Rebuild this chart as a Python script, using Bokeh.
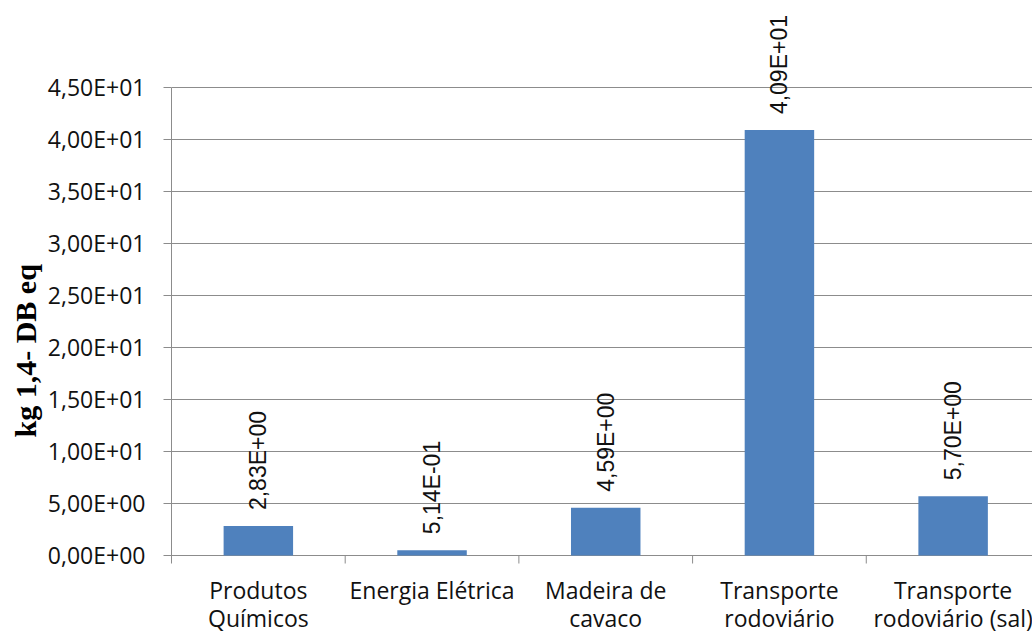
import math

from bokeh.core.properties import value
from bokeh.embed import file_html
from bokeh.models import FixedTicker, Range1d, Title
from bokeh.plotting import figure
from bokeh.resources import INLINE

# Data
categories = [
    "Produtos\nQuímicos",
    "Energia Elétrica",
    "Madeira de\ncavaco",
    "Transporte\nrodoviário",
    "Transporte\nrodoviário (sal)",
]
values = [2.83, 0.514, 4.59, 40.9, 5.70]
y_ticks = [0, 5, 10, 15, 20, 25, 30, 35, 40, 45]
y_title = "kg 1,4- DB eq"


def sci_pt(v):
    """Scientific notation with a decimal comma, e.g. 2,83E+00."""
    return f"{v:.2E}".replace(".", ",")


n = len(categories)
centers = [i + 0.5 for i in range(n)]
boundaries = list(range(1, n))
value_labels = [sci_pt(v) for v in values]
first_lines = [c.split("\n")[0] for c in categories]
second_lines = [c.split("\n")[1] if "\n" in c else "" for c in categories]

GRID = "#8c8c8c"
BAR = "#4F81BD"
TEXT = "#111111"

# The frame runs down to the bottom edge so the category names can be drawn
# as text below the zero line; the value axis is bounded to its own ticks.
Y_MIN, Y_MAX = -7.5, 52.88
TICK_DEPTH = -0.77
X_END = 4.957

p = figure(
    width=1032,
    height=633,
    x_range=Range1d(0, X_END),
    y_range=Range1d(Y_MIN, Y_MAX),
    x_axis_location=None,
    output_backend="svg",
    toolbar_location=None,
    min_border_left=171,
    min_border_right=0,
    min_border_top=5,
    min_border_bottom=0,
)
p.outline_line_color = None
p.background_fill_color = "white"
p.border_fill_color = "white"

# Horizontal gridlines (the one at zero doubles as the category axis line)
p.xgrid.visible = False
p.ygrid.ticker = FixedTicker(ticks=y_ticks)
p.ygrid.grid_line_color = GRID
p.ygrid.grid_line_width = 1

# Value axis
p.yaxis.ticker = FixedTicker(ticks=y_ticks)
p.yaxis.major_label_overrides = {t: sci_pt(t) for t in y_ticks}
p.yaxis.bounds = (TICK_DEPTH, max(y_ticks))
p.yaxis.axis_line_color = GRID
p.yaxis.major_tick_line_color = GRID
p.yaxis.major_tick_out = 8
p.yaxis.major_tick_in = 0
p.yaxis.minor_tick_line_color = None
p.yaxis.major_label_standoff = 18
p.yaxis.major_label_text_font = "Open Sans"
p.yaxis.major_label_text_font_size = "23px"
p.yaxis.major_label_text_color = TEXT

# Vertical title, to the left of the value axis
p.add_layout(
    Title(
        text=y_title,
        align="left",
        offset=196,
        standoff=6,
        text_font="Liberation Serif",
        text_font_style="bold",
        text_font_size="30px",
        text_color="#000000",
    ),
    "left",
)

# Tick marks between categories
p.segment(x0=boundaries, y0=0, x1=boundaries, y1=TICK_DEPTH, line_color=GRID, line_width=1)

# Bars
p.vbar(x=centers, top=values, bottom=0, width=0.4, fill_color=BAR, line_color=None)

# Rotated value labels above the bars
p.text(
    x=centers,
    y=values,
    text=value_labels,
    angle=math.pi / 2,
    text_align="left",
    text_baseline="middle",
    y_offset=-16,
    text_font=value("Liberation Sans"),
    text_font_size="23px",
    text_color=TEXT,
)

# Category names under the zero line
for lines, offset in ((first_lines, 35), (second_lines, 63)):
    p.text(
        x=centers,
        y=[0] * n,
        text=lines,
        text_align="center",
        text_baseline="alphabetic",
        y_offset=offset,
        text_font=value("Open Sans"),
        text_font_size="23px",
        text_color=TEXT,
    )

with open("out.html", "w") as f:
    f.write(file_html(p, INLINE))
